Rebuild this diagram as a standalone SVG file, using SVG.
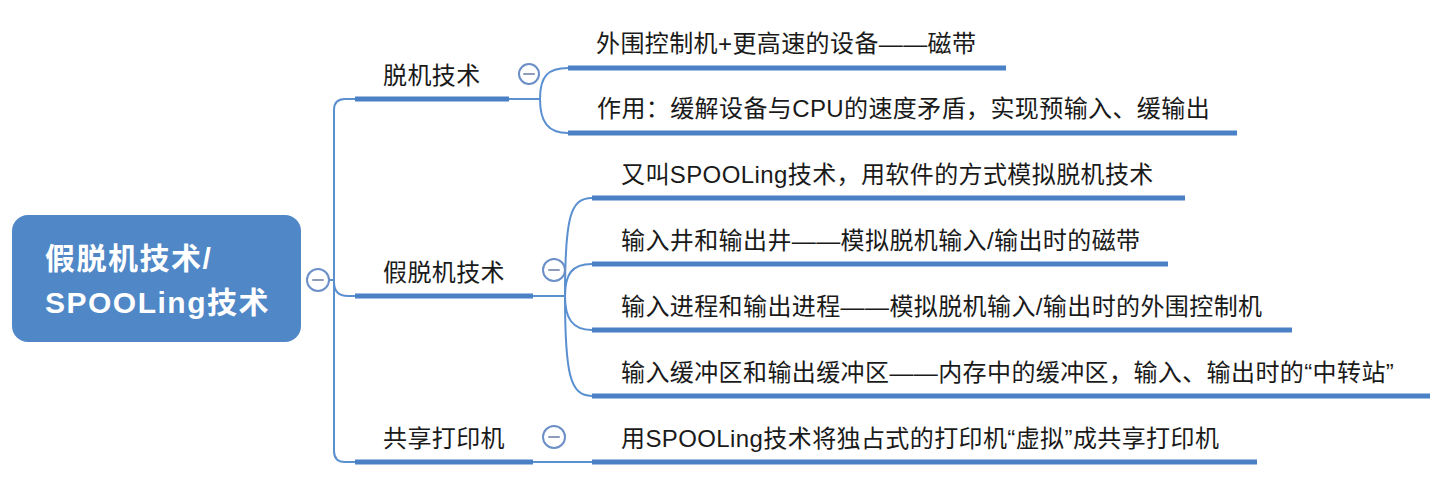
<svg xmlns="http://www.w3.org/2000/svg" width="1452" height="478" viewBox="0 0 1452 478">
<defs>
<style>
.bg{fill:#ffffff}
.root{fill:#4f87c7}
.rt{font-family:"Liberation Sans","Noto Sans CJK SC",sans-serif;font-size:30px;font-weight:bold;fill:#ffffff;letter-spacing:1.5px}
.t{font-family:"Liberation Sans","Noto Sans CJK SC",sans-serif;font-size:24px;fill:#1a1a1a;letter-spacing:0.4px}
.u{stroke:#4a80c6;stroke-width:5;fill:none}
.c{stroke:#5a8fd0;stroke-width:2;fill:none}
.btn{fill:#ffffff;stroke:#6b8fc6;stroke-width:2}
.minus{stroke:#8e9cbc;stroke-width:2;stroke-linecap:round}
</style>
</defs>
<rect class="bg" x="0" y="0" width="1452" height="478"/>

<g id="connectors">
<path class="c" d="M329 280 H334"/>
<path class="c" d="M355 99 H345 Q334 99 334 110 V451 Q334 462 345 462 H355"/>
<path class="c" d="M334 282 Q334 296 348 296 H355"/>
<path class="c" d="M509 99 H540"/>
<path class="c" d="M540 99 C540 76 548 68 568 68"/>
<path class="c" d="M540 99 C540 122 548 133 568 133"/>
<path class="c" d="M533 296 H565"/>
<path class="c" d="M565 296 C565 218 570 198 592 198"/>
<path class="c" d="M565 296 C565 274 572 264 592 264"/>
<path class="c" d="M565 296 C565 318 572 330 592 330"/>
<path class="c" d="M565 296 C565 374 570 396 592 396"/>
<path class="c" d="M533 462 H592"/>
</g>

<g id="root">
<rect class="root" x="12" y="215" width="289" height="127" rx="16"/>
<text class="rt" x="45" y="269">假脱机技术/</text>
<text class="rt" x="45" y="313">SPOOLing技术</text>
<circle class="btn" cx="318" cy="280" r="11"/>
<line class="minus" x1="313" y1="280" x2="323" y2="280"/>
</g>

<g id="n-tuoji">
<text class="t" x="383" y="84">脱机技术</text>
<line class="u" x1="355" y1="99" x2="509" y2="99"/>
<circle class="btn" cx="529" cy="74" r="10"/>
<line class="minus" x1="524" y1="74" x2="534" y2="74"/>
</g>

<g id="n-tuoji-1">
<text class="t" x="596" y="52">外围控制机+更高速的设备——磁带</text>
<line class="u" x1="568" y1="68" x2="1006" y2="68"/>
</g>

<g id="n-tuoji-2">
<text class="t" x="597" y="117">作用：缓解设备与CPU的速度矛盾，实现预输入、缓输出</text>
<line class="u" x1="568" y1="133" x2="1237" y2="133"/>
</g>

<g id="n-jiatuoji">
<text class="t" x="383" y="281">假脱机技术</text>
<line class="u" x1="355" y1="296" x2="533" y2="296"/>
<circle class="btn" cx="554" cy="270" r="11"/>
<line class="minus" x1="549" y1="270" x2="559" y2="270"/>
</g>

<g id="n-jiatuoji-1">
<text class="t" x="621" y="183">又叫SPOOLing技术，用软件的方式模拟脱机技术</text>
<line class="u" x1="592" y1="198" x2="1185" y2="198"/>
</g>

<g id="n-jiatuoji-2">
<text class="t" x="621" y="249">输入井和输出井——模拟脱机输入/输出时的磁带</text>
<line class="u" x1="592" y1="264" x2="1168" y2="264"/>
</g>

<g id="n-jiatuoji-3">
<text class="t" x="621" y="315">输入进程和输出进程——模拟脱机输入/输出时的外围控制机</text>
<line class="u" x1="592" y1="330" x2="1292" y2="330"/>
</g>

<g id="n-jiatuoji-4">
<text class="t" x="621" y="381">输入缓冲区和输出缓冲区——内存中的缓冲区，输入、输出时的“中转站”</text>
<line class="u" x1="592" y1="396" x2="1430" y2="396"/>
</g>

<g id="n-printer">
<text class="t" x="383" y="447">共享打印机</text>
<line class="u" x1="355" y1="462" x2="533" y2="462"/>
<circle class="btn" cx="554" cy="437" r="11"/>
<line class="minus" x1="549" y1="437" x2="559" y2="437"/>
</g>

<g id="n-printer-1">
<text class="t" x="621" y="447">用SPOOLing技术将独占式的打印机“虚拟”成共享打印机</text>
<line class="u" x1="592" y1="462" x2="1257" y2="462"/>
</g>
</svg>
